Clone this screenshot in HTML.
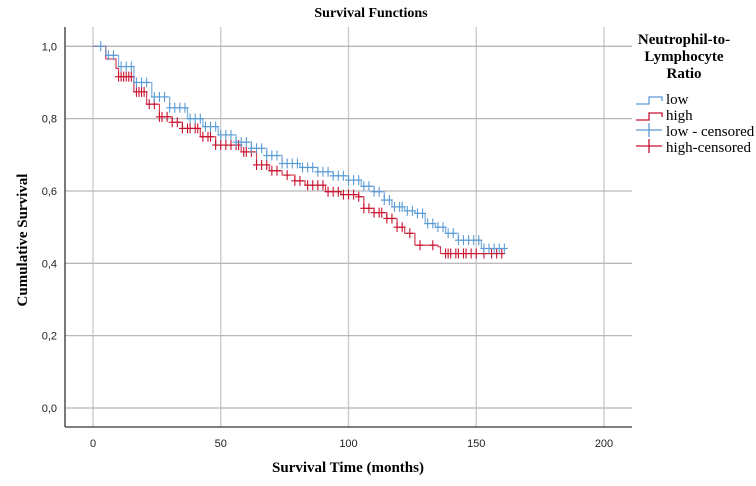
<!DOCTYPE html>
<html><head><meta charset="utf-8"><style>
html,body{margin:0;padding:0;background:#fff;}
svg{display:block;}
</style></head><body>
<svg id="chart" width="756" height="486" viewBox="0 0 756 486" xmlns="http://www.w3.org/2000/svg">
<text x="371" y="17" text-anchor="middle" font-family="Liberation Serif, serif" font-weight="bold" font-size="14">Survival Functions</text>
<g id="grid"></g>
<g id="series"></g>
<g id="axes"></g>
<text transform="translate(27,240) rotate(-90)" text-anchor="middle" font-family="Liberation Serif, serif" font-weight="bold" font-size="15">Cumulative Survival</text>
<text x="348" y="472" text-anchor="middle" font-family="Liberation Serif, serif" font-weight="bold" font-size="15">Survival Time (months)</text>
<g font-family="Liberation Serif, serif">
<text text-anchor="middle" font-weight="bold" font-size="15"><tspan x="684" y="44">Neutrophil-to-</tspan><tspan x="684" y="61">Lymphocyte</tspan><tspan x="684" y="78">Ratio</tspan></text>
<g><path d="M636,104 H649 V97 H662 V101" fill="none" stroke="#5b9bd5" stroke-width="1.3"/><text x="666" y="104" font-size="15">low</text></g>
<g><path d="M636,120 H649 V113 H662 V117" fill="none" stroke="#c8102e" stroke-width="1.3"/><text x="666" y="120" font-size="15">high</text></g>
<g><path d="M636,130 H662 M649,123 V137" stroke="#5b9bd5" stroke-width="1.3"/><text x="666" y="136" font-size="15">low - censored</text></g>
<g><path d="M636,146 H662 M649,139 V153" stroke="#c8102e" stroke-width="1.3"/><text x="666" y="152" font-size="15">high-censored</text></g>
</g>
</svg>
<script>
const xTicks = [0, 50, 100, 150, 200];
const yTicks = [0, 0.2, 0.4, 0.6, 0.8, 1.0];
const yTickLabels = ["0,0", "0,2", "0,4", "0,6", "0,8", "1,0"];
const lowTimes = [0, 5, 10, 16, 23, 30, 37, 43, 49, 56, 62, 68, 74, 81, 88, 94, 100, 105, 110, 114, 117, 122, 126, 130, 134, 138, 143, 152, 162];
const lowSurv  = [1, 0.975, 0.944, 0.90, 0.86, 0.83, 0.80, 0.778, 0.755, 0.735, 0.718, 0.698, 0.676, 0.665, 0.653, 0.642, 0.63, 0.613, 0.598, 0.575, 0.556, 0.545, 0.538, 0.51, 0.50, 0.483, 0.464, 0.441, 0.441];
const highTimes = [0, 5, 9, 10, 16, 21, 26, 31, 35, 42, 48, 58, 64, 69, 74, 79, 83, 91, 97, 104, 106, 110, 115, 119, 122, 126, 135, 136, 161];
const highSurv  = [1, 0.965, 0.939, 0.916, 0.874, 0.84, 0.805, 0.79, 0.773, 0.75, 0.727, 0.708, 0.672, 0.656, 0.644, 0.628, 0.616, 0.598, 0.59, 0.584, 0.552, 0.54, 0.524, 0.5, 0.483, 0.45, 0.446, 0.427, 0.427];
const lowCensor = [3,6,8,11,13,15,17,19,21,24,26,28,30,32,34,36,38,40,42,44,46,48,50,52,54,56,58,60,62,64,66,68,70,72,74,76,78,80,82,84,86,88,90,92,94,96,98,100,102,104,106,108,110,112,114,116,118,120,121,123,125,127,129,131,133,135,137,139,141,143,145,147,149,151,153,155,157,159,161];
const highCensor = [10,11,12,13,14,15,17,18,19,20,22,24,26,27,29,31,33,35,37,38,40,41,43,45,46,48,50,52,54,56,57,59,60,62,64,66,68,70,72,76,79,81,84,86,88,90,92,94,96,98,100,102,104,106,108,110,112,113,115,117,119,121,124,128,133,138,139,140,142,143,145,146,148,150,153,156,158,160];
const NS='http://www.w3.org/2000/svg';
const L=65,R=632,T=27,B=427;
const xS=t=>93+t*(604-93)/200;
const yS=v=>408-v*(408-46.3);
function mk(tag,attrs,parent){const e=document.createElementNS(NS,tag);for(const k in attrs)e.setAttribute(k,attrs[k]);parent.appendChild(e);return e;}
const grid=document.getElementById('grid'),axes=document.getElementById('axes'),ser=document.getElementById('series');
xTicks.forEach(t=>{
  const g=mk('line',{x1:xS(t),x2:xS(t),y1:T,y2:B,stroke:'#c8c8c8','stroke-width':1.3},grid);
  
  
  const tx=mk('text',{x:xS(t),y:B+20,'text-anchor':'middle','font-family':'Liberation Sans, sans-serif','font-size':11,fill:'#222'},axes);
  tx.textContent=t;
  
  
});
yTicks.forEach((v,i)=>{
  const g=mk('line',{x1:L,x2:R,y1:yS(v),y2:yS(v),stroke:'#b8b8b8','stroke-width':1.3},grid);
  
  
  const tx=mk('text',{x:L-8,y:yS(v)+4,'text-anchor':'end','font-family':'Liberation Sans, sans-serif','font-size':11,fill:'#222'},axes);
  tx.textContent=yTickLabels[i];
  
  
});
const ya=mk('line',{x1:L,x2:L,y1:T,y2:B,stroke:'#333','stroke-width':1.3},axes);


const xa=mk('line',{x1:L,x2:R,y1:B,y2:B,stroke:'#333','stroke-width':1.3},axes);


function survAt(times,surv,t){let s=surv[0];for(let i=0;i<times.length;i++){if(times[i]<=t)s=surv[i];}return s;}
function drawSeries(times,surv,cens,color,name){
  let d='M'+xS(times[0])+','+yS(surv[0]);
  for(let i=1;i<times.length;i++){d+=' H'+xS(times[i])+' V'+yS(surv[i]);}
  const p=mk('path',{d:d,fill:'none',stroke:color,'stroke-width':1.2,opacity:0.8},ser);
  
  
  let cd='';
  cens.forEach(t=>{const x=xS(t),y=yS(survAt(times,surv,t));cd+=` M${x-3.5},${y} H${x+3.5} M${x},${y-5} V${y+5}`;});
  const c=mk('path',{d:cd,fill:'none',stroke:color,'stroke-width':1.1},ser);
  
  
}
drawSeries(highTimes,highSurv,highCensor,'#c8102e','high');
drawSeries(lowTimes,lowSurv,lowCensor,'#5b9bd5','low');
</script>
</body></html>
